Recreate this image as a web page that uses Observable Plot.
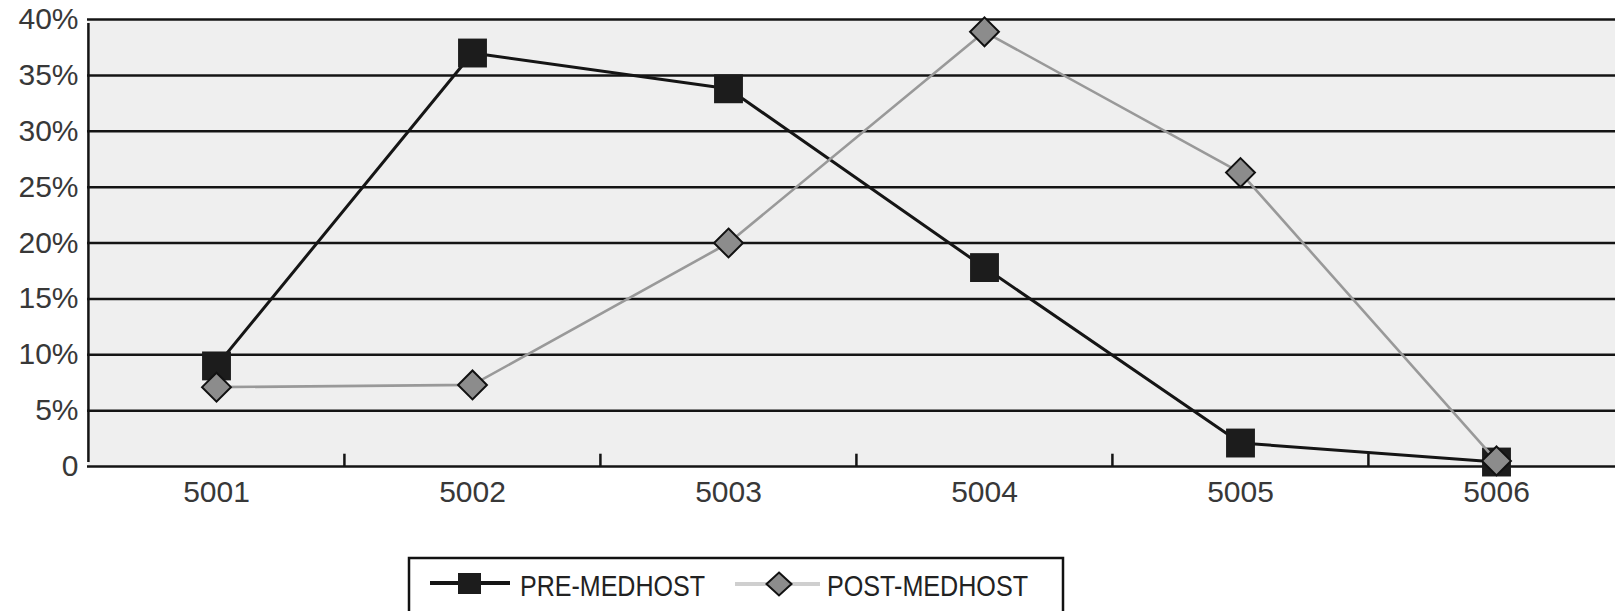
<!DOCTYPE html>
<html>
<head>
<meta charset="utf-8">
<script src="https://cdn.jsdelivr.net/npm/d3@7"></script>
<script src="https://cdn.jsdelivr.net/npm/@observablehq/plot@0.6"></script>
<style>
  html, body { margin: 0; padding: 0; background: #fff; }
  svg { display: block; }
</style>
</head>
<body>
<div id="chart"></div>
<script>
const categories = ["5001", "5002", "5003", "5004", "5005", "5006"];
const preMedhost = [9.0, 37.0, 33.8, 17.8, 2.1, 0.4];
const postMedhost = [7.1, 7.3, 20.0, 38.9, 26.3, 0.5];
const seriesNames = ["PRE-MEDHOST", "POST-MEDHOST"];
const yTicks = [0, 5, 10, 15, 20, 25, 30, 35, 40];

const preRows = categories.map((c, i) => ({cat: c, value: preMedhost[i], series: seriesNames[0]}));
const postRows = categories.map((c, i) => ({cat: c, value: postMedhost[i], series: seriesNames[1]}));

const W = 1615, H = 530;
const xRange = [87, 1624];
const step = (xRange[1] - xRange[0]) / categories.length;
const font = "'Liberation Sans', Arial, Helvetica, sans-serif";

const chart = Plot.plot({
  width: W,
  height: H,
  marginLeft: 87,
  marginRight: 0,
  marginTop: 19,
  marginBottom: H - 466,
  x: {type: "band", domain: categories, range: xRange, padding: 0, label: null},
  y: {domain: [0, 40], range: [466, 19], label: null},
  style: {fontFamily: font, fontSize: "30px", color: "#333", background: "#fff", overflow: "hidden"},
  marks: [
    Plot.frame({fill: "#efefef", stroke: null}),
    Plot.ruleY(yTicks.filter(d => d > 0), {stroke: "#141414", strokeWidth: 2.5}),
    Plot.ruleY([0], {stroke: "#141414", strokeWidth: 2.5}),
    Plot.ruleX([categories[0]], {dx: -step / 2, y1: 0, y2: 40, insetTop: -4, insetBottom: -4, stroke: "#141414", strokeWidth: 2.5}),
    Plot.ruleX(categories.slice(1), {dx: -step / 2, y1: 0, y2: 1.1, stroke: "#141414", strokeWidth: 2.5}),
    Plot.axisY(yTicks, {tickSize: 0, tickPadding: 9, fontSize: 30, fill: "#383838", label: null, tickFormat: d => d === 0 ? "0" : d + "%"}),
    Plot.axisX({tickSize: 0, tickPadding: 14, fontSize: 30, fill: "#383838", label: null}),
    Plot.line(preRows, {x: "cat", y: "value", stroke: "#151515", strokeWidth: 3}),
    Plot.dot(preRows, {x: "cat", y: "value", symbol: "square", r: 16.3, fill: "#1c1c1c", stroke: null}),
    Plot.line(postRows, {x: "cat", y: "value", stroke: "#999", strokeWidth: 2.6}),
    Plot.dot(postRows, {x: "cat", y: "value", symbol: "diamond2", r: 13, fill: "#8c8c8c", stroke: "#111", strokeWidth: 2})
  ]
});
document.getElementById("chart").appendChild(chart);

// Legend (below the plot SVG)
const LH = 611 - H;
const legend = d3.create("svg").attr("width", W).attr("height", LH);
legend.append("rect").attr("x", 409).attr("y", 28).attr("width", 654).attr("height", 80)
  .attr("fill", "#fff").attr("stroke", "#111").attr("stroke-width", 2.5);
legend.append("line").attr("x1", 430).attr("x2", 510).attr("y1", 53).attr("y2", 53)
  .attr("stroke", "#151515").attr("stroke-width", 4);
legend.append("rect").attr("x", 458).attr("y", 43).attr("width", 23).attr("height", 21).attr("fill", "#1c1c1c");
legend.append("text").attr("x", 520).attr("y", 66).attr("font-family", font).attr("font-size", 30)
  .attr("fill", "#222").attr("textLength", 185).attr("lengthAdjust", "spacingAndGlyphs").text(seriesNames[0]);
legend.append("line").attr("x1", 735).attr("x2", 820).attr("y1", 54).attr("y2", 54)
  .attr("stroke", "#cfcfcf").attr("stroke-width", 4);
legend.append("path").attr("d", "M779,42.5L791.5,54L779,65.5L766.5,54Z")
  .attr("fill", "#8c8c8c").attr("stroke", "#111").attr("stroke-width", 2);
legend.append("text").attr("x", 827).attr("y", 66).attr("font-family", font).attr("font-size", 30)
  .attr("fill", "#222").attr("textLength", 201).attr("lengthAdjust", "spacingAndGlyphs").text(seriesNames[1]);
document.getElementById("chart").appendChild(legend.node());
</script>
</body>
</html>
